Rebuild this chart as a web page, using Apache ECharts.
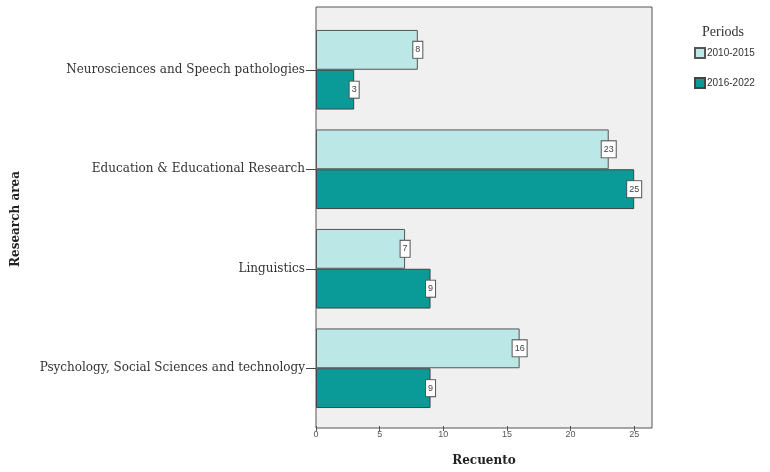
<!DOCTYPE html>
<html><head><meta charset="utf-8">
<script src="https://cdn.jsdelivr.net/npm/echarts@6/dist/echarts.min.js"></script>
<style>html,body{margin:0;padding:0;background:#fff}#c{width:770px;height:472px}</style>
</head><body><div id="c"></div>
<script>
const categories = ['Neurosciences and Speech pathologies', 'Education & Educational Research', 'Linguistics', 'Psychology, Social Sciences and technology'];
const period1 = [8, 23, 7, 16];
const period2 = [3, 25, 9, 9];
const seriesNames = ['2010-2015', '2016-2022'];
const xTicks = [0, 5, 10, 15, 20, 25];

const chart = echarts.init(document.getElementById('c'));
const serif = '"Liberation Serif", "DejaVu Serif", serif';
const wideSerif = '"DejaVu Serif", "Liberation Serif", serif';
const sans = 'Arial, "Liberation Sans", sans-serif';
const labelStyle = {
  show: true, position: 'right', distance: 0, align: 'center',
  backgroundColor: '#fff', borderColor: '#555', borderWidth: 1,
  padding: [4, 2, 3, 2], fontSize: 9, color: '#444', fontFamily: sans
};
chart.setOption({
  animation: false,
  title: { text: 'Periods', left: 697, top: 20, textStyle: { fontFamily: serif, fontSize: 14, fontWeight: 'normal', color: '#333' } },
  legend: {
    data: seriesNames, orient: 'vertical', left: 689, top: 42, itemWidth: 10, itemHeight: 10, itemGap: 18,
    icon: 'rect',
    textStyle: { fontSize: 10, color: '#333', fontFamily: sans, padding: [0, 0, 0, -3] }
  },
  grid: [
    { left: 316, right: 118, top: 20, bottom: 52, show: false },
    { left: 316, right: 118, top: 7, bottom: 44, show: true, backgroundColor: '#f0f0f0', borderColor: '#555', borderWidth: 1 }
  ],
  xAxis: [
    {
      type: 'value', gridIndex: 0, min: 0, max: 26.4, interval: 5, offset: 8,
      name: 'Recuento', nameLocation: 'middle', nameGap: 29,
      nameTextStyle: { fontFamily: wideSerif, fontWeight: 'bold', fontSize: 12, color: '#222' },
      axisLine: { show: false },
      axisTick: { show: true, length: 5, lineStyle: { color: '#555' } },
      axisLabel: { showMaxLabel: false, fontSize: 9, color: '#555', margin: 4, fontFamily: sans,
        formatter: v => xTicks.includes(v) ? String(v) : '' },
      splitLine: { show: false }
    },
    { type: 'value', gridIndex: 1, show: false }
  ],
  yAxis: [
    {
      type: 'category', gridIndex: 0, data: categories, inverse: true,
      name: 'Research area', nameLocation: 'middle', nameGap: 294,
      nameTextStyle: { fontFamily: wideSerif, fontWeight: 'bold', fontSize: 12, color: '#222' },
      axisLine: { show: false },
      axisTick: { show: true, alignWithLabel: true, length: 10, lineStyle: { color: '#444' } },
      axisLabel: { fontFamily: wideSerif, fontSize: 12, color: '#333', margin: 11 }
    },
    { type: 'category', gridIndex: 1, show: false, data: [''] }
  ],
  series: [
    {
      name: seriesNames[0], type: 'bar', xAxisIndex: 0, yAxisIndex: 0, data: period1,
      barCategoryGap: '20%', barGap: '0%',
      itemStyle: { color: '#bce7e7', borderColor: '#555', borderWidth: 1 },
      label: labelStyle
    },
    {
      name: seriesNames[1], type: 'bar', xAxisIndex: 0, yAxisIndex: 0, data: period2,
      barCategoryGap: '20%', barGap: '0%',
      itemStyle: { color: '#0a9a98', borderColor: '#444', borderWidth: 1 },
      label: labelStyle
    }
  ]
});
</script></body></html>
